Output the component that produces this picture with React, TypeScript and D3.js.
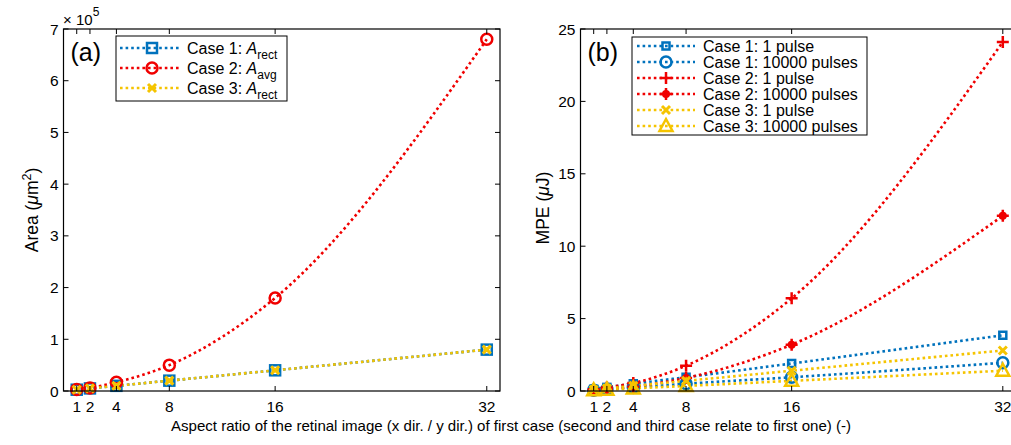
import React from "react";
import * as d3 from "d3";

const ratios = [1, 2, 4, 8, 16, 32];
const xTicks = [1, 2, 4, 8, 16, 32];

// Panel (a) areas (µm^2)
const areaCase1 = [2500, 5000, 10000, 20000, 40000, 80000];
const areaCase2 = [3000, 6000, 17000, 50000, 180000, 680000];
const areaCase3 = [2500, 5000, 10000, 20000, 40000, 80000];
const areaTicks = [0, 1, 2, 3, 4, 5, 6, 7];

// Panel (b) MPE (µJ)
const mpeC1p1 = [0.12, 0.25, 0.5, 0.95, 1.9, 3.85];
const mpeC1p10k = [0.06, 0.12, 0.25, 0.5, 0.95, 1.95];
const mpeC2p1 = [0.12, 0.25, 0.55, 1.75, 6.4, 24.1];
const mpeC2p10k = [0.06, 0.12, 0.3, 0.9, 3.2, 12.1];
const mpeC3p1 = [0.09, 0.18, 0.35, 0.7, 1.4, 2.8];
const mpeC3p10k = [0.05, 0.09, 0.18, 0.35, 0.7, 1.4];
const mpeTicks = [0, 5, 10, 15, 20, 25];

const BLUE = "#0072BD";
const RED = "#F00000";
const YELLOW = "#F5C400";
const FONT = "'Liberation Sans', Arial, Helvetica, sans-serif";

type MarkerKind = "square" | "smallsquare" | "circle" | "x" | "plus" | "star" | "triangle";

function Marker({ kind, x, y, color }: { kind: MarkerKind; x: number; y: number; color: string }) {
  const sw = 2.5;
  switch (kind) {
    case "square":
      return <rect x={x - 5} y={y - 5} width={10} height={10} fill="none" stroke={color} strokeWidth={sw} />;
    case "smallsquare":
      return <rect x={x - 3.5} y={y - 3.5} width={7} height={7} fill="none" stroke={color} strokeWidth={sw} />;
    case "circle":
      return <circle cx={x} cy={y} r={5.5} fill="none" stroke={color} strokeWidth={sw} />;
    case "x":
      return (
        <path d={`M${x - 4},${y - 4}L${x + 4},${y + 4}M${x - 4},${y + 4}L${x + 4},${y - 4}`} stroke={color} strokeWidth={3} />
      );
    case "plus":
      return <path d={`M${x - 6},${y}L${x + 6},${y}M${x},${y - 6}L${x},${y + 6}`} stroke={color} strokeWidth={2.5} />;
    case "star":
      return (
        <g>
          <circle cx={x} cy={y} r={4} fill={color} />
          <path d={`M${x - 6},${y}L${x + 6},${y}M${x},${y - 6}L${x},${y + 6}`} stroke={color} strokeWidth={2.5} />
        </g>
      );
    case "triangle":
      return (
        <path d={`M${x},${y - 7}L${x + 6.5},${y + 5}L${x - 6.5},${y + 5}Z`} fill="none" stroke={color} strokeWidth={2.5} />
      );
  }
  return null;
}

type Series = { values: number[]; color: string; marker: MarkerKind };

function Panel({
  x0, x1, yTop, yBot, yMax, yTicks, tickFmt, series, tag,
}: {
  x0: number; x1: number; yTop: number; yBot: number; yMax: number; yTicks: number[];
  tickFmt: (v: number) => string; series: Series[]; tag: string;
}) {
  const x = d3.scaleLinear().domain([0, 33]).range([x0, x1]);
  const y = d3.scaleLinear().domain([0, yMax]).range([yBot, yTop]);
  const line = d3.line<number>().x((_, i) => x(ratios[i])).y((d) => y(d)).curve(d3.curveMonotoneX);
  const tl = 5;
  return (
    <g>
      {series.map((s, k) => (
        <g key={k}>
          <path d={line(s.values) || ""} fill="none" stroke={s.color} strokeWidth={2.6} strokeDasharray="2.6,3" />
        </g>
      ))}
      {series.map((s, k) => (
        <g key={"m" + k}>
          {s.values.map((v, i) => (
            <Marker key={i} kind={s.marker} x={x(ratios[i])} y={y(v)} color={s.color} />
          ))}
        </g>
      ))}
      <rect x={x0} y={yTop} width={x1 - x0} height={yBot - yTop} fill="none" stroke="#000" strokeWidth={1.2} />
      {xTicks.map((t) => (
        <g key={t}>
          <line x1={x(t)} x2={x(t)} y1={yBot} y2={yBot - tl} stroke="#000" />
          <line x1={x(t)} x2={x(t)} y1={yTop} y2={yTop + tl} stroke="#000" />
          <text x={x(t)} y={yBot + 21} textAnchor="middle" fontSize={15.5} fontFamily={FONT}>{t}</text>
        </g>
      ))}
      {yTicks.map((t) => (
        <g key={t}>
          <line x1={x0} x2={x0 + tl} y1={y(t)} y2={y(t)} stroke="#000" />
          <line x1={x1} x2={x1 - tl} y1={y(t)} y2={y(t)} stroke="#000" />
          <text x={x0 - 5} y={y(t) + 5.5} textAnchor="end" fontSize={15.5} fontFamily={FONT}>{tickFmt(t)}</text>
        </g>
      ))}
      <text x={x0 + 7} y={yTop + 32} fontSize={25} fontFamily={FONT}>{tag}</text>
    </g>
  );
}

export default function App() {
  const seriesA: Series[] = [
    { values: areaCase1, color: BLUE, marker: "square" },
    { values: areaCase2, color: RED, marker: "circle" },
    { values: areaCase3, color: YELLOW, marker: "x" },
  ];
  const seriesB: Series[] = [
    { values: mpeC1p1, color: BLUE, marker: "smallsquare" },
    { values: mpeC1p10k, color: BLUE, marker: "circle" },
    { values: mpeC2p1, color: RED, marker: "plus" },
    { values: mpeC2p10k, color: RED, marker: "star" },
    { values: mpeC3p1, color: YELLOW, marker: "x" },
    { values: mpeC3p10k, color: YELLOW, marker: "triangle" },
  ];
  const legendA = [
    { label: "Case 1: ", sub: "rect", s: seriesA[0] },
    { label: "Case 2: ", sub: "avg", s: seriesA[1] },
    { label: "Case 3: ", sub: "rect", s: seriesA[2] },
  ];
  const legendBLabels = [
    "Case 1: 1 pulse",
    "Case 1: 10000 pulses",
    "Case 2: 1 pulse",
    "Case 2: 10000 pulses",
    "Case 3: 1 pulse",
    "Case 3: 10000 pulses",
  ];
  return (
    <svg width={1011} height={445} style={{ position: "absolute", left: 0, top: 0, background: "#fff" }} fontFamily={FONT}>
      <rect width={1011} height={445} fill="#fff" />
      <Panel x0={63.5} x1={500} yTop={29} yBot={391} yMax={700000} yTicks={areaTicks.map((v) => v * 1e5)}
        tickFmt={(v) => String(v / 1e5)} series={seriesA} tag="(a)" />
      <Panel x0={580.5} x1={1016} yTop={29} yBot={391} yMax={25} yTicks={mpeTicks}
        tickFmt={(v) => String(v)} series={seriesB} tag="(b)" />
      {/* x10^5 */}
      <text x={63} y={25} fontSize={15}>× 10<tspan dy={-9} fontSize={12}>5</tspan></text>
      {/* y labels */}
      <text transform="translate(38,210) rotate(-90)" textAnchor="middle" fontSize={17.5}>
        Area (<tspan fontStyle="italic">μ</tspan>m<tspan dy={-7} fontSize={12.5}>2</tspan><tspan dy={7}>)</tspan>
      </text>
      <text transform="translate(549,208) rotate(-90)" textAnchor="middle" fontSize={17.5}>
        MPE (<tspan fontStyle="italic">μ</tspan>J)
      </text>
      <text x={511} y={431} textAnchor="middle" fontSize={15} textLength={680} lengthAdjust="spacingAndGlyphs">
        Aspect ratio of the retinal image (x dir. / y dir.) of first case (second and third case relate to first one) (-)
      </text>
      {/* legend a */}
      <rect x={116} y={36} width={171} height={65} fill="#fff" stroke="#000" strokeWidth={1} />
      {legendA.map((e, i) => {
        const yy = 48 + i * 20;
        return (
          <g key={i}>
            <line x1={120} x2={180} y1={yy} y2={yy} stroke={e.s.color} strokeWidth={2.6} strokeDasharray="2.6,3" />
            <Marker kind={e.s.marker} x={152} y={yy} color={e.s.color} />
            <text x={187} y={yy + 5.5} fontSize={16}>
              {e.label}<tspan fontStyle="italic">A</tspan><tspan dy={5} fontSize={12}>{e.sub}</tspan>
            </text>
          </g>
        );
      })}
      {/* legend b */}
      <rect x={632} y={37} width={235} height={98} fill="#fff" stroke="#000" strokeWidth={1} />
      {seriesB.map((s, i) => {
        const yy = 46 + i * 16;
        return (
          <g key={i}>
            <line x1={637} x2={695} y1={yy} y2={yy} stroke={s.color} strokeWidth={2.6} strokeDasharray="2.6,3" />
            <Marker kind={s.marker} x={666} y={yy} color={s.color} />
            <text x={703} y={yy + 5.5} fontSize={16}>{legendBLabels[i]}</text>
          </g>
        );
      })}
    </svg>
  );
}
